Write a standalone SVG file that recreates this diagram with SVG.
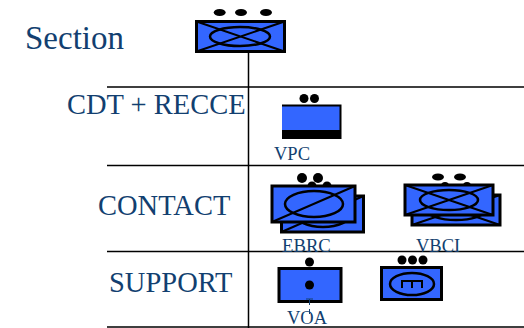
<svg xmlns="http://www.w3.org/2000/svg" width="524" height="328" viewBox="0 0 524 328">
<style>
text{font-family:"Liberation Serif","Times New Roman",serif;fill:#123f70}
.grid{stroke:#000;stroke-width:1.5;fill:none}
.box{fill:#3366ff;stroke:#000;stroke-width:3}
.sym{fill:none;stroke:#000;stroke-width:2.500}
.thin{fill:none;stroke:#000;stroke-width:2}
.dot{fill:#000}
</style>
<rect width="524" height="328" fill="#fff"/>
<g id="connectors">
<path class="grid" d="M107 87H524M107 165.500H524M107 251.500H524M107 327H524M248.500 52V328"/>
</g>
<g id="labels">
<text x="25" y="49" font-size="33">Section</text>
<text x="67" y="114" font-size="28.500">CDT + RECCE</text>
<text x="98" y="215" font-size="28.500">CONTACT</text>
<text x="109" y="292" font-size="28.500">SUPPORT</text>
</g>
<g id="section">
<ellipse class="dot" cx="219.700" cy="12.500" rx="6" ry="3.500"/>
<ellipse class="dot" cx="241" cy="12.500" rx="6" ry="3.500"/>
<ellipse class="dot" cx="266" cy="12.500" rx="6" ry="3.500"/>
<rect class="box" x="196.500" y="21.500" width="88" height="30"/>
<path class="thin" d="M196.500 21.500L284.500 51.500M284.500 21.500L196.500 51.500"/>
<ellipse class="sym" cx="240" cy="36.500" rx="30" ry="9.500"/>
</g>
<g id="vpc">
<circle class="dot" cx="304" cy="98.500" r="4.500"/>
<circle class="dot" cx="314.500" cy="98.500" r="4.500"/>
<rect x="282" y="105" width="59" height="34" fill="#3366ff"/>
<rect x="282" y="130" width="59" height="9" fill="#000"/>
<path d="M282 105.500H340.500V139" fill="none" stroke="#000" stroke-width="2"/>
<text x="274" y="160" font-size="18.500">VPC</text>
</g>
<g id="ebrc">
<circle class="dot" cx="312" cy="186" r="4.500"/>
<circle class="dot" cx="327" cy="186" r="4.500"/>
<rect class="box" x="281.500" y="196" width="82" height="36"/>
<path class="thin" d="M281.500 232L363.500 196"/>
<ellipse class="sym" cx="323" cy="214" rx="28" ry="13"/>
<rect class="box" x="272" y="186" width="83" height="36"/>
<path class="thin" d="M272 222L355 186"/>
<ellipse class="sym" cx="314" cy="204" rx="29" ry="13"/>
<circle class="dot" cx="302" cy="178" r="5"/>
<circle class="dot" cx="318" cy="178" r="5"/>
<text x="282" y="252" font-size="18.700">EBRC</text>
</g>
<g id="vbci">
<circle class="dot" cx="445" cy="186" r="4"/>
<circle class="dot" cx="467" cy="186" r="4"/>
<rect class="box" x="412" y="195" width="88" height="30"/>
<path class="thin" d="M412 195L500 225M500 195L412 225"/>
<ellipse class="sym" cx="456" cy="210" rx="29" ry="10"/>
<rect class="box" x="405" y="185" width="88" height="30"/>
<path class="thin" d="M405 185L493 215M493 185L405 215"/>
<ellipse class="sym" cx="449" cy="200" rx="29" ry="10"/>
<ellipse class="dot" cx="438" cy="177" rx="6" ry="3.500"/>
<ellipse class="dot" cx="460" cy="177" rx="6" ry="3.500"/>
<text x="416" y="252" font-size="18.500">VBCI</text>
</g>
<g id="voa">
<circle class="dot" cx="309.500" cy="262" r="4.500"/>
<rect class="box" x="279" y="268.500" width="62" height="33"/>
<circle class="dot" cx="309.500" cy="285" r="4.500"/>
<path d="M306 299H313M309.500 299V305M309.500 309V314" fill="none" stroke="#123f70" stroke-width="1"/>
<text x="287" y="324" font-size="18.500">VOA</text>
</g>
<g id="support2">
<circle class="dot" cx="402" cy="260" r="4.500"/>
<circle class="dot" cx="412.500" cy="260" r="4.500"/>
<circle class="dot" cx="423" cy="260" r="4.500"/>
<rect class="box" x="381.500" y="267.500" width="60" height="32"/>
<ellipse class="sym" cx="412" cy="284" rx="22" ry="11"/>
<path class="thin" d="M402 288V281H422V288M412 281V288"/>
</g>
</svg>
